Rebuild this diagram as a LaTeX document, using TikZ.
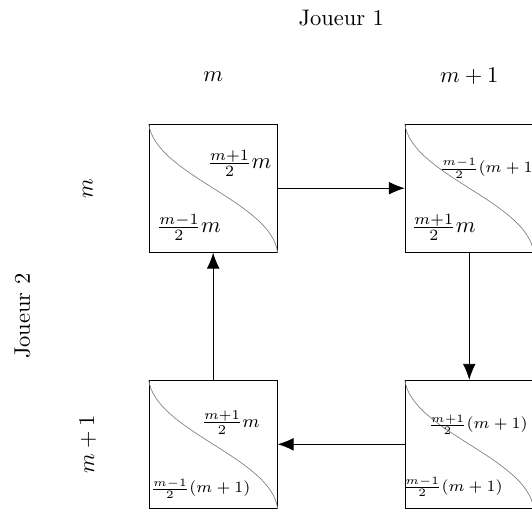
\documentclass[tikz,border=0pt]{standalone}
\usepackage{amsmath}
\usepackage{tikz}
\usetikzlibrary{arrows.meta}
\tikzset{
    pay-box/.style = {draw=black, thin, rectangle, minimum size=2cm, inner sep=0pt},
    pay-curve/.style = {draw=gray, line width=0.3pt},
    pay-text/.style = {inner sep=0pt},
    pay-arrow/.style = {-{Latex[length=2.5mm, width=2mm]}, thin},
    axis-label/.style = {font=\normalsize},
}
\newcommand{\paycurve}[1]{\draw[pay-curve] (#1.north west) .. controls +(0.1,-0.8) and +(-0.1,0.8) .. (#1.south east);}

\begin{document}
\begin{tikzpicture}
\useasboundingbox (-3.33,-5.01) rectangle (4.98,2.94);
% the four cells
\node [pay-box] (tl) at (0,0) {};
\node [pay-box] (tr) at (4,0) {};
\node [pay-box] (bl) at (0,-4) {};
\node [pay-box] (br) at (4,-4) {};
\paycurve{tl}
\paycurve{tr}
\paycurve{bl}
\paycurve{br}
% payoffs
\node [pay-text] (tl-up) at ([shift={(0.41,0.39)}]tl.center) {$\frac{m+1}{2}m$};
\node [pay-text] (tl-low) at ([shift={(-0.38,-0.61)}]tl.center) {$\frac{m-1}{2}m$};
\node [pay-text, anchor=west, font=\scriptsize] (tr-up) at ([shift={(-0.47,0.31)}]tr.center) {$\frac{m-1}{2}(m+1)$};
\node [pay-text] (tr-low) at ([shift={(-0.40,-0.61)}]tr.center) {$\frac{m+1}{2}m$};
\node [pay-text, font=\footnotesize] (bl-up) at ([shift={(0.27,0.34)}]bl.center) {$\frac{m+1}{2}m$};
\node [pay-text, font=\scriptsize] (bl-low) at ([shift={(-0.20,-0.69)}]bl.center) {$\frac{m-1}{2}(m+1)$};
\node [pay-text, anchor=east, font=\scriptsize] (br-up) at ([shift={(0.92,0.31)}]br.center) {$\frac{m+1}{2}(m+1)$};
\node [pay-text, font=\scriptsize] (br-low) at ([shift={(-0.26,-0.66)}]br.center) {$\frac{m-1}{2}(m+1)$};
% labels
\node [axis-label] (p1) at (2,2.66) {Joueur 1};
\node [axis-label] (c1) at (0,1.75) {$m$};
\node [axis-label] (c2) at (4,1.75) {$m+1$};
\node [axis-label, rotate=90] (p2) at (-2.98,-2) {Joueur 2};
\node [axis-label, rotate=90] (r1) at (-1.96,0) {$m$};
\node [axis-label, rotate=90] (r2) at (-1.96,-4) {$m+1$};
% cycle
\draw [pay-arrow] (tl) -- (tr);
\draw [pay-arrow] (tr) -- (br);
\draw [pay-arrow] (br) -- (bl);
\draw [pay-arrow] (bl) -- (tl);
\end{tikzpicture}
\end{document}
